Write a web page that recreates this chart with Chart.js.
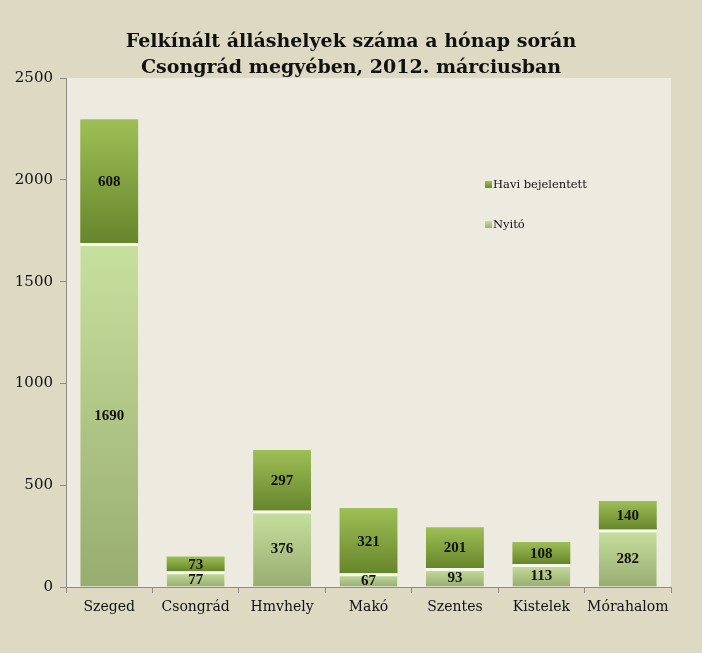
<!DOCTYPE html>
<html><head><meta charset="utf-8">
<script src="https://cdn.jsdelivr.net/npm/chart.js@4/dist/chart.umd.min.js"></script>
<style>html,body{margin:0;padding:0;background:#DDD9C3;}canvas{display:block;}</style>
</head><body>
<canvas id="c" width="702" height="653"></canvas>
<script>
const categories = ['Szeged','Csongrád','Hmvhely','Makó','Szentes','Kistelek','Mórahalom'];
const nyito = [1690, 77, 376, 67, 93, 113, 282];
const havi = [608, 73, 297, 321, 201, 108, 140];
const titleLines = ['Felkínált álláshelyek száma a hónap során','Csongrád megyében, 2012. márciusban'];
const yTicks = {min:0, max:2500, step:500};

const SERIF = '"DejaVu Serif", "Liberation Serif", serif';
const TIMES = '"Liberation Serif", "Times New Roman", serif';

function segGradient(ctx, topColor, bottomColor) {
  const chart = ctx.chart;
  if (!chart.chartArea || ctx.dataIndex === undefined) return bottomColor;
  const y = chart.scales.y;
  let start = 0;
  for (let d = 0; d < ctx.datasetIndex; d++) start += chart.data.datasets[d].data[ctx.dataIndex];
  const end = start + chart.data.datasets[ctx.datasetIndex].data[ctx.dataIndex];
  const y0 = y.getPixelForValue(end), y1 = y.getPixelForValue(start);
  const g = chart.ctx.createLinearGradient(0, y0, 0, y1);
  g.addColorStop(0, topColor);
  g.addColorStop(1, bottomColor);
  return g;
}

const plotBg = {
  id: 'plotBg',
  beforeDraw(chart) {
    const {ctx, chartArea: a} = chart;
    ctx.save();
    ctx.fillStyle = '#EDEBE0';
    ctx.fillRect(a.left, a.top, a.right - a.left, a.bottom - a.top);
    ctx.restore();
  }
};

const dataLabels = {
  id: 'dataLabels',
  afterDatasetsDraw(chart) {
    const ctx = chart.ctx;
    ctx.save();
    ctx.font = 'bold 15px ' + TIMES;
    ctx.fillStyle = '#111';
    ctx.textAlign = 'center';
    ctx.textBaseline = 'middle';
    chart.data.datasets.forEach((ds, di) => {
      const meta = chart.getDatasetMeta(di);
      meta.data.forEach((el, i) => {
        const cy = (el.y + el.base) / 2 + 1;
        ctx.fillText(String(ds.data[i]), el.x, cy);
      });
    });
    ctx.restore();
  }
};

const customLegend = {
  id: 'customLegend',
  afterDraw(chart) {
    const ctx = chart.ctx;
    const items = [
      {label: chart.data.datasets[1].label, c1: '#9DBE55', c2: '#6A8A2C', y: 185},
      {label: chart.data.datasets[0].label, c1: '#C6DE9C', c2: '#9AAE72', y: 225}
    ];
    ctx.save();
    ctx.font = '11.5px ' + SERIF;
    ctx.textBaseline = 'middle';
    items.forEach(it => {
      const g = ctx.createLinearGradient(0, it.y - 4, 0, it.y + 3);
      g.addColorStop(0, it.c1); g.addColorStop(1, it.c2);
      ctx.fillStyle = g;
      ctx.fillRect(485, it.y - 4, 7, 7);
      ctx.fillStyle = '#111';
      ctx.textAlign = 'left';
      ctx.fillText(it.label, 493, it.y);
    });
    ctx.restore();
  }
};

new Chart(document.getElementById('c'), {
  type: 'bar',
  data: {
    labels: categories,
    datasets: [
      {
        label: 'Nyitó',
        data: nyito,
        backgroundColor: c => segGradient(c, '#C8E09E', '#98AC70'),
        borderColor: '#F6F9EC',
        borderWidth: {top: 3, left: 0, right: 0, bottom: 0},
        borderSkipped: false,
        barPercentage: 0.67,
        categoryPercentage: 1
      },
      {
        label: 'Havi bejelentett',
        data: havi,
        backgroundColor: c => segGradient(c, '#9EBF56', '#67852B'),
        borderWidth: 0,
        barPercentage: 0.67,
        categoryPercentage: 1
      }
    ]
  },
  options: {
    responsive: false,
    animation: false,
    layout: {padding: 0},
    plugins: {
      legend: {display: false},
      tooltip: {enabled: false},
      title: {
        display: true,
        text: titleLines,
        color: '#111',
        font: {family: SERIF, size: 19, weight: 'bold', lineHeight: 1.37},
        padding: {top: 29, bottom: -3}
      }
    },
    scales: {
      x: {
        stacked: true,
        afterFit(scale) { scale.height = 66; },
        grid: {display: true, drawOnChartArea: false, offset: true, color: '#8C8C8C', tickLength: 6, tickColor: '#8C8C8C'},
        border: {display: true, color: '#8C8C8C', width: 1},
        ticks: {color: '#111', font: {family: SERIF, size: 14}, padding: 6, maxRotation: 0, autoSkip: false}
      },
      y: {
        stacked: true,
        min: yTicks.min,
        max: yTicks.max,
        afterFit(scale) { scale.width = 66; },
        grid: {display: true, drawOnChartArea: false, color: '#8C8C8C', tickLength: 6},
        border: {display: true, color: '#8C8C8C', width: 1},
        ticks: {stepSize: yTicks.step, color: '#111', font: {family: SERIF, size: 15}, padding: 7,
                callback: v => String(v)}
      },
      yRight: {
        position: 'right',
        display: true,
        afterFit(scale) { scale.width = 31; },
        grid: {display: false},
        border: {display: false},
        ticks: {display: false}
      }
    }
  },
  plugins: [plotBg, dataLabels, customLegend]
});
</script>
</body></html>
